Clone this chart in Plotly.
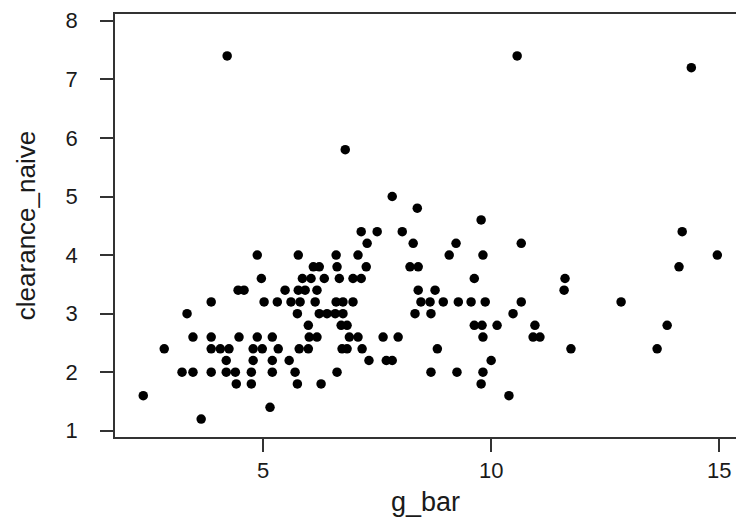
import plotly.graph_objects as go

# Data (g_bar vs clearance_naive)
g_bar = [
    4.21, 10.57,
    14.39,
    6.80,
    7.83,
    8.38,
    9.78,
    7.15, 7.50, 8.05, 14.19,
    7.28, 8.29, 9.23, 10.66,
    4.87, 5.77, 6.60, 7.08, 9.08, 9.82, 14.96,
    6.10, 6.23, 6.62, 7.26, 8.22, 8.40, 14.12,
    4.96, 5.86, 6.05, 6.34, 6.67, 6.97, 7.15, 9.63, 11.62,
    4.45, 4.58, 5.48, 5.77, 5.92, 6.18, 8.40, 8.77, 11.60,
    3.86, 5.02, 5.31, 5.61, 5.81, 6.14, 6.60, 6.75, 6.97, 8.46, 8.66, 8.95, 9.28, 9.56, 9.87, 10.66, 12.85,
    3.33, 5.75, 6.23, 6.40, 6.58, 6.75, 8.33, 8.68, 10.48,
    5.99, 6.71, 6.84, 9.63, 9.80, 10.13, 10.96, 13.86,
    3.46, 3.86, 4.47, 4.87, 5.20, 6.01, 6.18, 6.89, 7.08, 7.63, 7.96, 9.82, 10.92, 11.07,
    2.83, 3.86, 4.06, 4.25, 4.78, 4.98, 5.33, 5.79, 5.99, 6.73, 6.84, 7.17, 8.82, 11.75, 13.64,
    4.19, 4.78, 5.20, 5.57, 7.32, 7.70, 7.83, 10.00,
    3.22, 3.46, 3.86, 4.19, 4.39, 4.74, 5.20, 5.70, 6.62, 8.68, 9.25, 9.82,
    4.41, 4.74, 5.75, 6.27, 9.78,
    2.37, 10.39,
    5.15,
    3.64,
]

clearance_naive = [
    7.4, 7.4,
    7.2,
    5.8,
    5.0,
    4.8,
    4.6,
    4.4, 4.4, 4.4, 4.4,
    4.2, 4.2, 4.2, 4.2,
    4.0, 4.0, 4.0, 4.0, 4.0, 4.0, 4.0,
    3.8, 3.8, 3.8, 3.8, 3.8, 3.8, 3.8,
    3.6, 3.6, 3.6, 3.6, 3.6, 3.6, 3.6, 3.6, 3.6,
    3.4, 3.4, 3.4, 3.4, 3.4, 3.4, 3.4, 3.4, 3.4,
    3.2, 3.2, 3.2, 3.2, 3.2, 3.2, 3.2, 3.2, 3.2, 3.2, 3.2, 3.2, 3.2, 3.2, 3.2, 3.2, 3.2,
    3.0, 3.0, 3.0, 3.0, 3.0, 3.0, 3.0, 3.0, 3.0,
    2.8, 2.8, 2.8, 2.8, 2.8, 2.8, 2.8, 2.8,
    2.6, 2.6, 2.6, 2.6, 2.6, 2.6, 2.6, 2.6, 2.6, 2.6, 2.6, 2.6, 2.6, 2.6,
    2.4, 2.4, 2.4, 2.4, 2.4, 2.4, 2.4, 2.4, 2.4, 2.4, 2.4, 2.4, 2.4, 2.4, 2.4,
    2.2, 2.2, 2.2, 2.2, 2.2, 2.2, 2.2, 2.2,
    2.0, 2.0, 2.0, 2.0, 2.0, 2.0, 2.0, 2.0, 2.0, 2.0, 2.0, 2.0,
    1.8, 1.8, 1.8, 1.8, 1.8,
    1.6, 1.6,
    1.4,
    1.2,
]

x_ticks = [5, 10, 15]
y_ticks = [1, 2, 3, 4, 5, 6, 7, 8]

FONT = "Liberation Sans, Arial, sans-serif"
AX = "#333333"

fig = go.Figure(
    go.Scatter(
        x=g_bar,
        y=clearance_naive,
        mode="markers",
        marker=dict(color="black", size=9.5, line=dict(width=0)),
        showlegend=False,
        hoverinfo="x+y",
    )
)

fig.update_layout(
    width=736,
    height=525,
    margin=dict(l=115, r=0, t=14, b=88),
    paper_bgcolor="white",
    plot_bgcolor="white",
    font=dict(family=FONT, color="#1a1a1a", size=22),
)

fig.update_xaxes(
    range=[1.75, 15.37],
    tickvals=x_ticks,
    ticktext=[str(v) for v in x_ticks],
    ticks="outside",
    ticklen=13,
    tickwidth=1.5,
    tickcolor=AX,
    showline=True,
    linecolor=AX,
    linewidth=1.5,
    mirror=True,
    showgrid=False,
    zeroline=False,
    automargin=False,
    ticklabelstandoff=0,
    tickfont=dict(size=22),
    title=dict(text="g_bar", font=dict(size=27), standoff=10),
)

fig.update_yaxes(
    range=[0.894, 8.116],
    tickvals=y_ticks,
    ticktext=[str(v) for v in y_ticks],
    ticks="outside",
    ticklen=13,
    tickwidth=1.5,
    tickcolor=AX,
    showline=True,
    linecolor=AX,
    linewidth=1.5,
    mirror=False,
    showgrid=False,
    zeroline=False,
    automargin=False,
    ticklabelstandoff=18,
    tickfont=dict(size=22),
    title=dict(text="clearance_naive", font=dict(size=26), standoff=22),
)

# Remove the page's default body margin so the figure fills the window exactly,
# and hide the interactive toolbar.
fig.write_html(
    "out.html",
    config={"displayModeBar": False},
    post_script="document.body.style.margin='0';document.body.style.overflow='hidden';",
)
